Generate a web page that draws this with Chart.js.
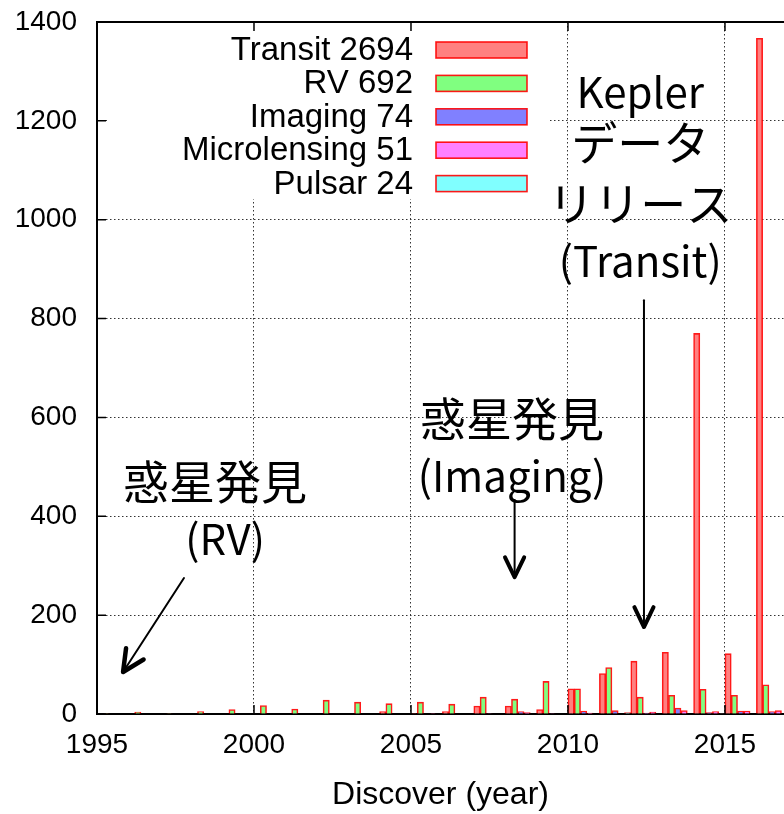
<!DOCTYPE html>
<html>
<head>
<meta charset="utf-8">
<title>Exoplanet discoveries by year</title>
<script src="https://cdn.jsdelivr.net/npm/chart.js@4.4.0/dist/chart.umd.min.js"></script>
<style>
    html, body { margin: 0; padding: 0; background: #fff; }
</style>
</head>
<body>
<canvas id="discovery-chart" width="784" height="814"></canvas>
<script>
// discoveries per year, one array per method
var years = [1995, 1996, 1997, 1998, 1999, 2000, 2001, 2002, 2003, 2004, 2005,
             2006, 2007, 2008, 2009, 2010, 2011, 2012, 2013, 2014, 2015, 2016];
var transit      = [0, 0, 0, 0, 0, 0, 0, 0, 0, 5, 1, 5, 16, 16, 9, 51, 82, 107, 125, 770, 122, 1367];
var rv           = [1, 4, 1, 5, 9, 17, 10, 28, 24, 21, 24, 20, 34, 30, 66, 51, 94, 34, 38, 50, 38, 59];
var imaging      = [0, 0, 0, 0, 0, 0, 0, 0, 0, 0, 0, 0, 1, 5, 1, 6, 7, 2, 12, 3, 6, 5];
var microlensing = [0, 0, 0, 0, 0, 0, 0, 0, 0, 0, 1, 0, 0, 3, 0, 2, 0, 4, 7, 5, 6, 7];
var pulsar       = [0, 0, 0, 0, 0, 0, 0, 0, 0, 0, 0, 0, 0, 0, 0, 0, 3, 0, 0, 1, 0, 0];

var seriesNames = ["Transit 2694", "RV 692", "Imaging 74", "Microlensing 51", "Pulsar 24"];
var seriesColors = ["#ff8080", "#80ff80", "#8080ff", "#ff80ff", "#80ffff"];
var xTicks = [1995, 2000, 2005, 2010, 2015];
var yTicks = [0, 200, 400, 600, 800, 1000, 1200, 1400];

var FONT = '"Liberation Sans", Arial, Helvetica, sans-serif';
var JP = '"Noto Sans CJK JP", "Noto Sans", sans-serif';

Chart.defaults.font.family = FONT;
Chart.defaults.color = '#000';

var barSets = [transit, rv, imaging, microlensing, pulsar];
var datasets = barSets.map(function (vals, k) {
    return {
        label: seriesNames[k],
        // each year's group of bars fills the bin [year, year + 1]
        data: years.map(function (yr, i) { return { x: yr + 0.5, y: vals[i] }; }),
        backgroundColor: seriesColors[k],
        borderColor: 'rgba(255,0,0,0.9)',
        borderWidth: 1.6,
        categoryPercentage: 1.0,
        barPercentage: 1.0
    };
});

function drawArrow(ctx, x1, y1, x2, y2, head, shaftW, headW) {
    var ang = Math.atan2(y2 - y1, x2 - x1);
    ctx.save();
    ctx.strokeStyle = '#000';
    ctx.lineCap = 'round';
    ctx.lineJoin = 'round';
    ctx.lineWidth = shaftW;
    ctx.beginPath();
    ctx.moveTo(x1, y1);
    ctx.lineTo(x2, y2);
    ctx.stroke();
    ctx.lineWidth = headW;
    ctx.beginPath();
    ctx.moveTo(x2 - head * Math.cos(ang - 0.45), y2 - head * Math.sin(ang - 0.45));
    ctx.lineTo(x2, y2);
    ctx.lineTo(x2 - head * Math.cos(ang + 0.45), y2 - head * Math.sin(ang + 0.45));
    ctx.stroke();
    ctx.restore();
}

// gnuplot style frame, opaque key and the slide notes
var framePlugin = {
    id: 'frame',
    beforeDatasetsDraw: function (chart) {
        var ctx = chart.ctx, a = chart.chartArea;
        // key box hides the grid behind it
        ctx.save();
        ctx.fillStyle = '#fff';
        ctx.fillRect(a.left + 10, a.top + 1, 443, 176);
        ctx.font = '33px ' + FONT;
        ctx.textAlign = 'right';
        ctx.textBaseline = 'middle';
        for (var i = 0; i < seriesNames.length; i++) {
            var cy = a.top + 28 + i * 33.4;
            ctx.fillStyle = '#000';
            ctx.fillText(seriesNames[i], a.left + 316, cy + 1);
            ctx.fillStyle = seriesColors[i];
            ctx.fillRect(a.left + 339, cy - 8, 91, 16);
            ctx.strokeStyle = 'rgba(255,0,0,0.9)';
            ctx.lineWidth = 1.6;
            ctx.strokeRect(a.left + 339, cy - 8, 91, 16);
        }
        ctx.restore();
    },
    afterDatasetsDraw: function (chart) {
        var ctx = chart.ctx, a = chart.chartArea;
        var xs = chart.scales.x, ys = chart.scales.y;
        ctx.save();
        ctx.strokeStyle = '#000';
        ctx.lineWidth = 2;
        ctx.beginPath();
        ctx.moveTo(a.left, a.top);
        ctx.lineTo(a.right, a.top);
        ctx.stroke();
        // inward tick marks
        ctx.lineWidth = 1.5;
        ctx.beginPath();
        yTicks.forEach(function (v) {
            var py = ys.getPixelForValue(v);
            ctx.moveTo(a.left, py);
            ctx.lineTo(a.left + 9, py);
        });
        xTicks.forEach(function (v) {
            var px = xs.getPixelForValue(v);
            ctx.moveTo(px, a.bottom);
            ctx.lineTo(px, a.bottom - 9);
            ctx.moveTo(px, a.top);
            ctx.lineTo(px, a.top + 9);
        });
        ctx.stroke();

        // notes
        ctx.fillStyle = '#000';
        ctx.textAlign = 'center';
        ctx.textBaseline = 'alphabetic';
        var kx = xs.getPixelForValue(2012.3);
        ctx.font = '42px ' + JP;
        ctx.fillText('Kepler', kx, ys.getPixelForValue(1227));
        ctx.font = '46px ' + JP;
        ctx.fillText('データ', kx, ys.getPixelForValue(1120));
        ctx.fillText('リリース', kx, ys.getPixelForValue(997));
        ctx.font = '42px ' + JP;
        ctx.fillText('(Transit)', kx, ys.getPixelForValue(884));

        var ix = xs.getPixelForValue(2008.22);
        ctx.font = '46px ' + JP;
        ctx.fillText('惑星発見', ix, ys.getPixelForValue(562));
        ctx.font = '42px ' + JP;
        ctx.fillText('(Imaging)', ix, ys.getPixelForValue(449));

        ctx.font = '46px ' + JP;
        ctx.fillText('惑星発見', xs.getPixelForValue(1998.76), ys.getPixelForValue(435));
        ctx.font = '42px ' + JP;
        ctx.fillText('(RV)', xs.getPixelForValue(1999.08), ys.getPixelForValue(321));
        ctx.restore();

        drawArrow(ctx, xs.getPixelForValue(2012.42), ys.getPixelForValue(837),
                  xs.getPixelForValue(2012.42), ys.getPixelForValue(176), 22, 2, 4);
        drawArrow(ctx, xs.getPixelForValue(2008.3), ys.getPixelForValue(433),
                  xs.getPixelForValue(2008.3), ys.getPixelForValue(277), 22, 2, 4);
        drawArrow(ctx, xs.getPixelForValue(1997.77), ys.getPixelForValue(275),
                  xs.getPixelForValue(1995.83), ys.getPixelForValue(85), 24, 2, 4.5);
    }
};

var ctx = document.getElementById('discovery-chart').getContext('2d');
var myChart = new Chart(ctx, {
    type: 'bar',
    data: { datasets: datasets },
    options: {
        responsive: false,
        animation: false,
        devicePixelRatio: 1,
        layout: { padding: { top: 22, right: 0, bottom: 0, left: 0 } },
        plugins: {
            legend: { display: false },
            tooltip: { enabled: false }
        },
        scales: {
            x: {
                type: 'linear',
                min: 1995,
                max: 2016.88,
                offset: false,
                afterFit: function (scale) { scale.height = 100; },
                grid: { offset: false, color: '#333', lineWidth: 1, drawTicks: false },
                border: { color: '#000', width: 2, dash: [1.5, 2.5] },
                ticks: {
                    stepSize: 5,
                    includeBounds: false,
                    padding: 14,
                    maxRotation: 0,
                    font: { size: 28 },
                    callback: function (v) { return String(v); }
                },
                title: {
                    display: true,
                    text: 'Discover (year)',
                    font: { size: 32 },
                    padding: { top: 0, bottom: 0 }
                }
            },
            y: {
                min: 0,
                max: 1400,
                afterFit: function (scale) {
                    scale.width = 97;
                    // the top label may stick out above the frame
                    scale.paddingTop = 0;
                    scale.paddingBottom = 0;
                },
                grid: { color: '#333', lineWidth: 1, drawTicks: false },
                border: { color: '#000', width: 2, dash: [1.5, 2.5] },
                ticks: {
                    stepSize: 200,
                    padding: 20,
                    font: { size: 28 },
                    callback: function (v) { return String(v); }
                }
            }
        }
    },
    plugins: [framePlugin]
});
</script>
</body>
</html>
